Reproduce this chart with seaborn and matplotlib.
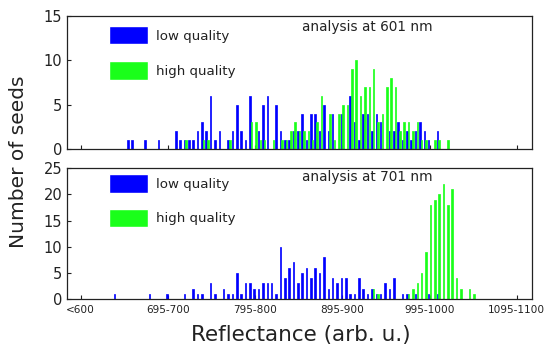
import pandas as pd
import matplotlib
matplotlib.use('Agg')
import matplotlib.pyplot as plt
import seaborn as sns

# Reflectance bins: "<600", "600-605", ..., "1095-1100"
bins = ['<600'] + [f'{595 + 5 * i}-{600 + 5 * i}' for i in range(1, 101)]
tick_labels = ['<600', '695-700', '795-800', '895-900', '995-1000', '1095-1100']
qualities = ['low quality', 'high quality']

# analysis at 601 nm (counts per bin)
low_601 = [0, 0, 0, 0, 0, 0, 0, 0, 0, 0, 0, 1, 1, 0, 0, 1, 0, 0, 1, 0,
           0, 0, 2, 1, 1, 1, 1, 2, 3, 2, 6, 1, 2, 0, 1, 2, 5, 2, 1, 6,
           0, 2, 5, 6, 0, 5, 2, 1, 1, 2, 2, 4, 1, 4, 4, 2, 5, 2, 4, 0,
           4, 0, 6, 3, 1, 4, 4, 2, 4, 3, 0, 2, 2, 3, 1, 2, 1, 2, 3, 2,
           1, 0, 2, 0, 0, 0, 0, 0, 0, 0, 0, 0, 0, 0, 0, 0, 0, 0, 0, 0, 0]
high_601 = [0, 0, 0, 0, 0, 0, 0, 0, 0, 0, 0, 0, 0, 0, 0, 0, 0, 0, 0, 0,
            0, 0, 0, 0, 1, 0, 0, 0, 1, 1, 0, 0, 0, 0, 1, 0, 0, 0, 0, 3,
            3, 1, 1, 0, 1, 0, 1, 1, 2, 3, 2, 2, 2, 1, 3, 6, 0, 4, 1, 4,
            5, 5, 9, 10, 6, 7, 7, 9, 3, 4, 7, 8, 7, 2, 3, 3, 2, 3, 1, 1,
            0, 1, 1, 0, 1, 0, 0, 0, 0, 0, 0, 0, 0, 0, 0, 0, 0, 0, 0, 0, 0]

# analysis at 701 nm (counts per bin)
low_701 = [0, 0, 0, 0, 0, 0, 0, 0, 1, 0, 0, 0, 0, 0, 0, 0, 1, 0, 0, 0,
           1, 0, 0, 0, 1, 0, 2, 1, 1, 0, 3, 1, 0, 2, 1, 1, 5, 1, 3, 3,
           2, 2, 3, 3, 3, 1, 10, 4, 6, 7, 3, 5, 6, 4, 6, 5, 8, 2, 4, 3,
           4, 4, 1, 1, 4, 2, 1, 2, 1, 1, 3, 2, 4, 0, 1, 1, 0, 1, 0, 0,
           1, 0, 1, 0, 0, 0, 0, 0, 0, 0, 0, 0, 0, 0, 0, 0, 0, 0, 0, 0, 0]
high_701 = [0, 0, 0, 0, 0, 0, 0, 0, 0, 0, 0, 0, 0, 0, 0, 0, 0, 0, 0, 0,
            0, 0, 0, 0, 0, 0, 0, 0, 0, 0, 0, 0, 0, 0, 0, 0, 0, 0, 0, 0,
            0, 0, 0, 0, 0, 0, 0, 0, 0, 0, 0, 0, 0, 0, 0, 0, 0, 0, 0, 0,
            0, 0, 0, 0, 0, 0, 0, 2, 1, 0, 0, 0, 0, 0, 0, 1, 2, 3, 5, 9,
            18, 19, 20, 22, 18, 21, 4, 2, 0, 2, 1, 0, 0, 0, 0, 0, 0, 0, 0, 0, 0]

colors = ['#0000ff', '#1aff1a']
text_color = '#222222'

sns.set_theme(style='ticks')
plt.rcParams['font.family'] = ['DejaVu Sans']

fig = plt.figure(figsize=(5.46, 3.44), dpi=100)
ax_top = fig.add_axes([0.1227, 0.5669, 0.8516, 0.3866])
ax_bot = fig.add_axes([0.1227, 0.1308, 0.8516, 0.3800])


def draw_panel(ax, low, high, title, ylim, yticks, leg_top, leg_space, title_y):
    df = pd.DataFrame({
        'bin': bins * 2,
        'count': low + high,
        'quality': [qualities[0]] * len(bins) + [qualities[1]] * len(bins),
    })
    sns.barplot(data=df, x='bin', y='count', hue='quality', order=bins,
                hue_order=qualities, palette=colors, saturation=1,
                width=0.8, gap=0.12, errorbar=None, ax=ax)
    for p in ax.patches:
        p.set_edgecolor(p.get_facecolor())
        p.set_linewidth(0.5)

    handles = ax.get_legend().legend_handles
    ax.legend(handles, qualities, loc='upper left',
              bbox_to_anchor=(0.091, leg_top), frameon=False, borderpad=0,
              borderaxespad=0, handlelength=2.9, handleheight=1.75,
              handletextpad=0.6, labelspacing=leg_space, fontsize=9.6,
              labelcolor=text_color)

    ax.text(0.505, title_y, title, transform=ax.transAxes, fontsize=9.8,
            va='center', ha='left', color=text_color)

    ax.set_xlim(-3.14, 103.5)
    ax.set_ylim(*ylim)
    ax.set_yticks(yticks)
    ax.set_xticks([0, 20, 40, 60, 80, 100])
    ax.set_xlabel('')
    ax.set_ylabel('')
    for spine in ax.spines.values():
        spine.set_visible(True)
        spine.set_linewidth(0.9)
        spine.set_color(text_color)
    ax.tick_params(direction='in', length=3, width=0.8, colors=text_color,
                   labelsize=10.5)


draw_panel(ax_top, low_601, high_601, 'analysis at 601 nm', (0, 15),
           [0, 5, 10, 15], 0.925, 1.25, 0.917)
draw_panel(ax_bot, low_701, high_701, 'analysis at 701 nm', (0, 25),
           [0, 5, 10, 15, 20, 25], 0.955, 1.2, 0.933)

ax_top.tick_params(axis='x', labelbottom=False)
ax_bot.set_xticklabels(tick_labels, fontsize=7.6)
ax_bot.tick_params(axis='x', pad=4)

fig.text(0.033, 0.53, 'Number of seeds', rotation=90, fontsize=14.5,
         va='center', ha='center', color=text_color)
fig.text(0.551, 0.027, 'Reflectance (arb. u.)', fontsize=15.5,
         va='center', ha='center', color=text_color)

fig.savefig('out.png', dpi=100)
